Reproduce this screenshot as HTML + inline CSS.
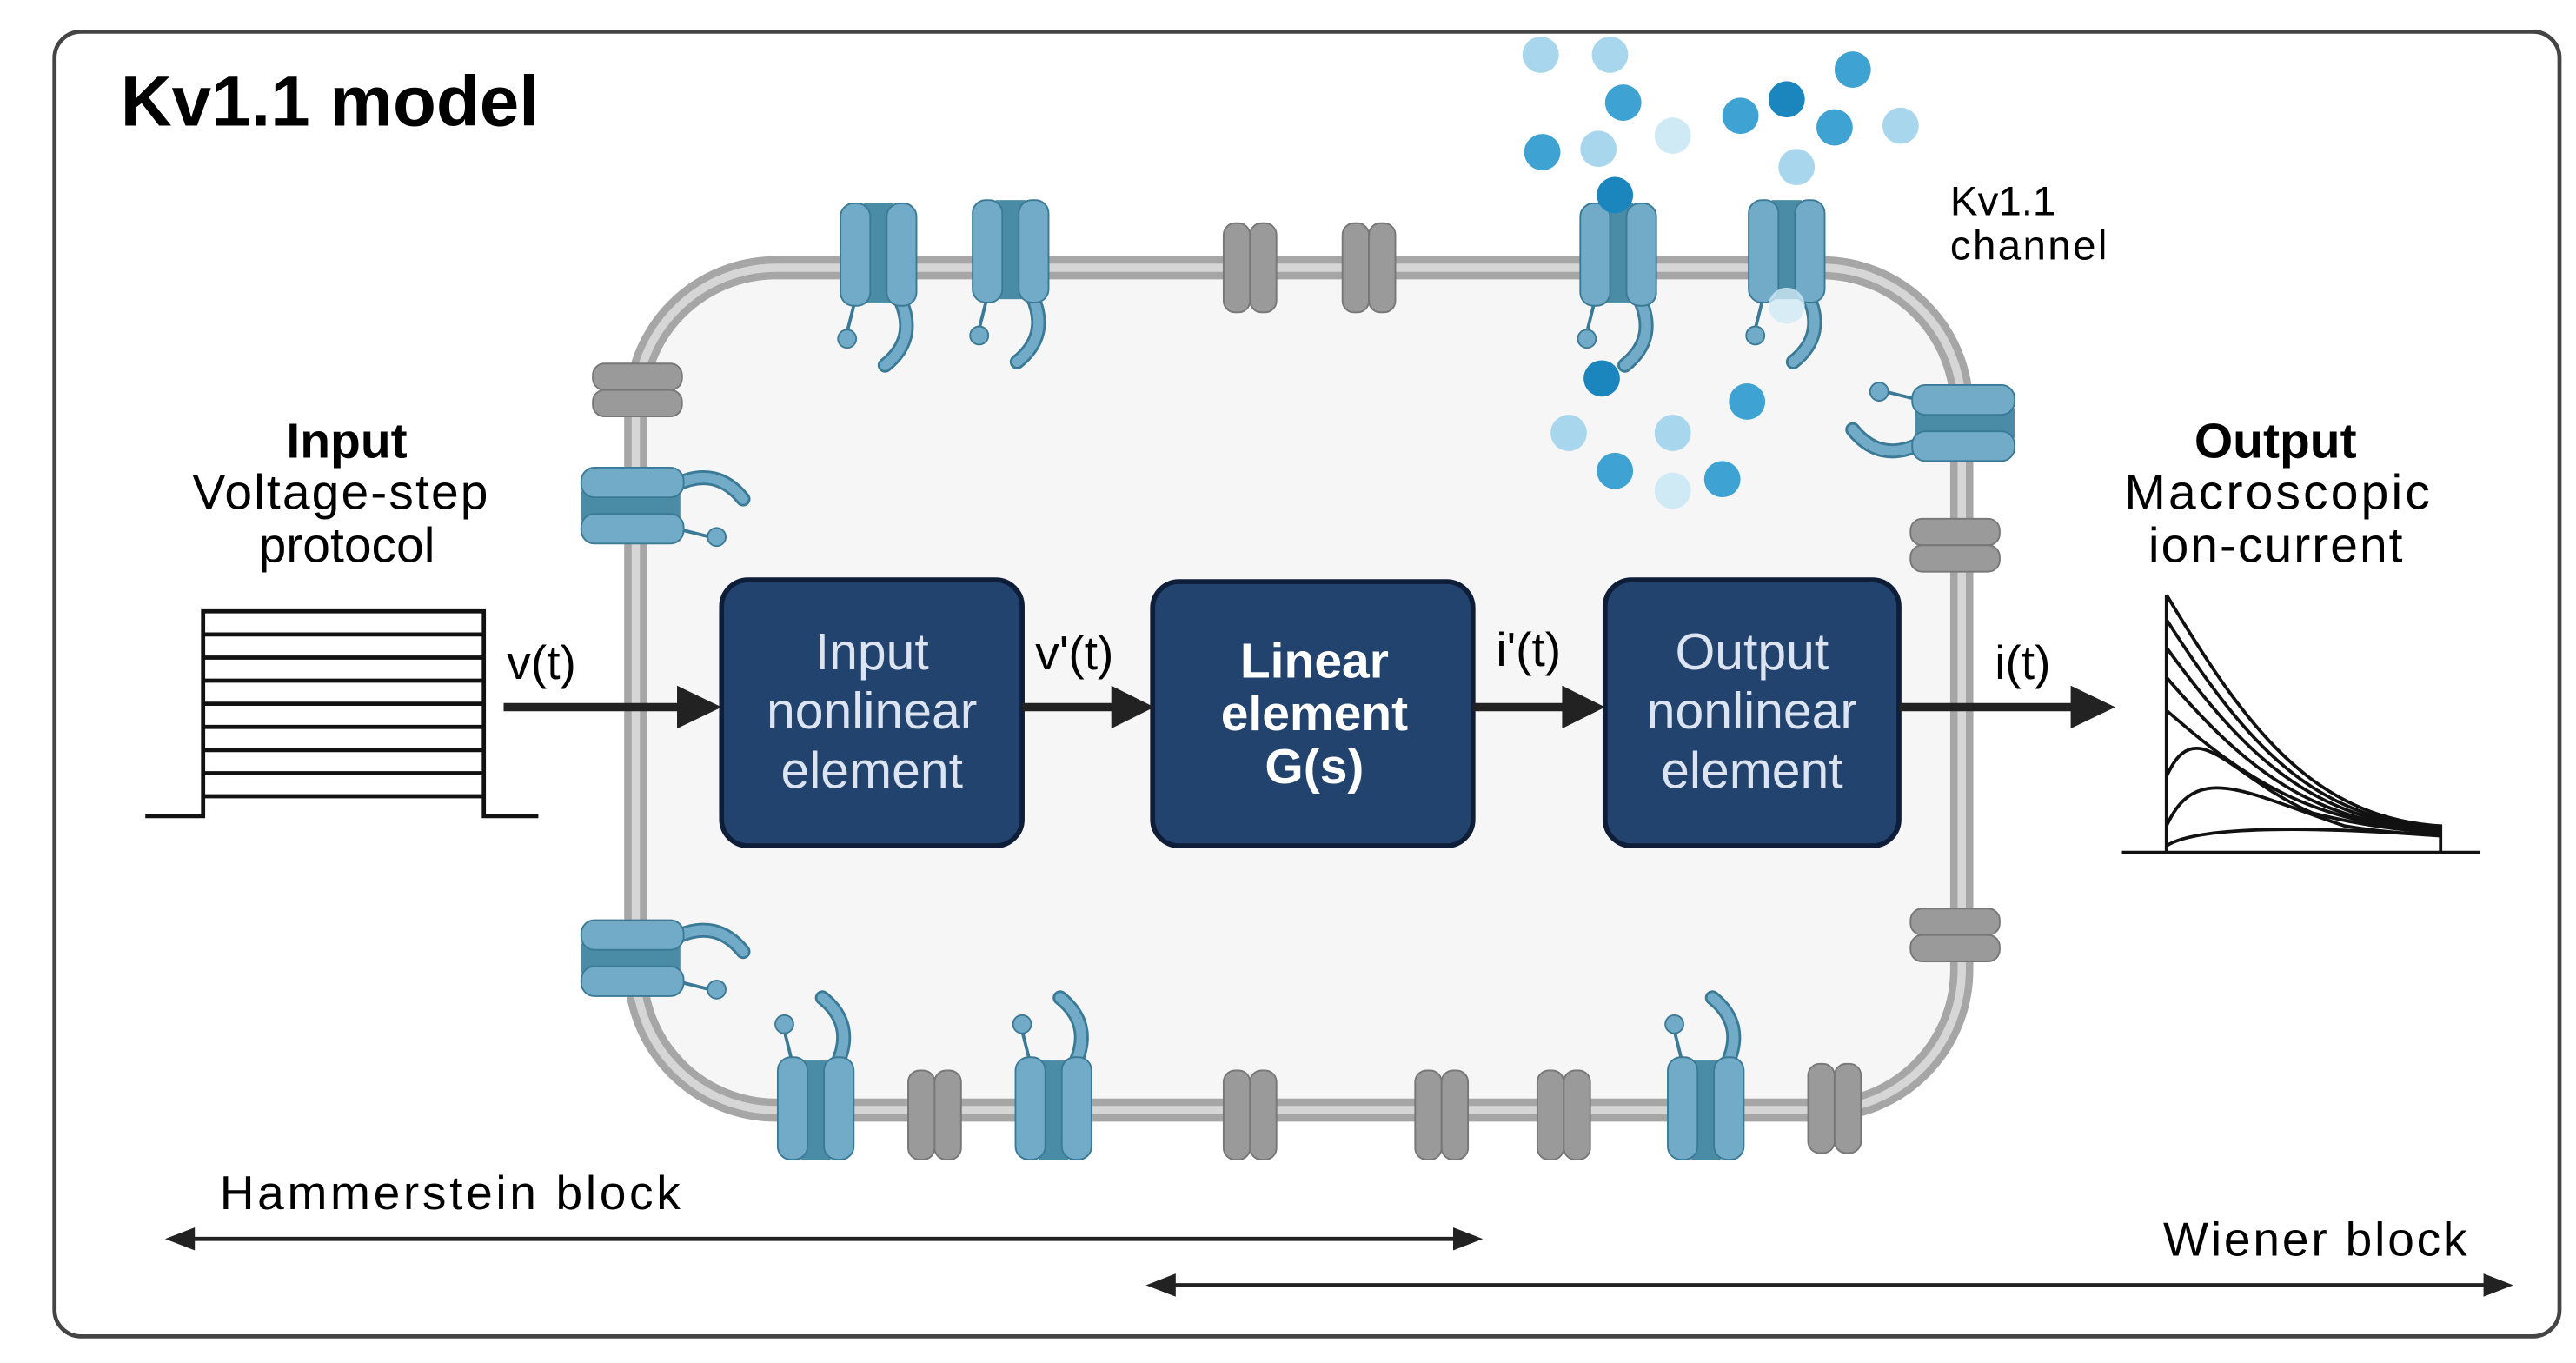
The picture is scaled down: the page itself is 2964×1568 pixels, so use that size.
<!DOCTYPE html>
<html><head><meta charset="utf-8"><style>
html,body{margin:0;padding:0;background:#fff;}
svg{display:block;}
text{font-family:"Liberation Sans",sans-serif;}
</style></head><body>
<svg width="2964" height="1568" viewBox="0 0 1560 825" xmlns="http://www.w3.org/2000/svg">
<defs>
<g id="ch">
 <path d="M13,24 Q24,48 4,64" fill="none" stroke="#3b7a96" stroke-width="9" stroke-linecap="round"/>
 <path d="M13,24 Q24,48 4,64" fill="none" stroke="#72abc8" stroke-width="6" stroke-linecap="round"/>
 <line x1="-14" y1="24" x2="-19" y2="44" stroke="#3b7a96" stroke-width="2"/>
 <circle cx="-19" cy="48" r="5.5" fill="#72abc8" stroke="#3b7a96" stroke-width="1"/>
 <rect x="-9" y="-34" width="18" height="60" fill="#4a8ca6"/>
 <rect x="-23" y="-34" width="18" height="62" rx="8" fill="#72abc8" stroke="#3b7a96" stroke-width="1"/>
 <rect x="5" y="-34" width="18" height="62" rx="8" fill="#72abc8" stroke="#3b7a96" stroke-width="1"/>
</g>
<g id="gc">
 <rect x="-16" y="-27" width="16" height="54" rx="7" fill="#9a9a9a" stroke="#777" stroke-width="1"/>
 <rect x="0" y="-27" width="16" height="54" rx="7" fill="#9a9a9a" stroke="#777" stroke-width="1"/>
</g>
</defs>
<rect x="0" y="0" width="1560" height="825" fill="#fff"/>
<rect x="33" y="19" width="1517" height="790" rx="16" fill="#fff" stroke="#444" stroke-width="2.5"/>
<text x="73" y="76" font-size="43" font-weight="bold" fill="#000">Kv1.1 model</text>

<!-- cell -->
<rect x="385" y="162" width="803" height="510" rx="85" fill="#f6f6f6" stroke="#a6a6a6" stroke-width="14"/>
<rect x="385" y="162" width="803" height="510" rx="85" fill="none" stroke="#d6d6d6" stroke-width="5"/>

<!-- gray channels -->
<use href="#gc" transform="translate(757,162)"/>
<use href="#gc" transform="translate(829,162)"/>
<use href="#gc" transform="translate(566,675)"/>
<use href="#gc" transform="translate(757,675)"/>
<use href="#gc" transform="translate(873,675)"/>
<use href="#gc" transform="translate(947,675)"/>
<use href="#gc" transform="translate(1111,671)"/>
<use href="#gc" transform="translate(386,236) rotate(90)"/>
<use href="#gc" transform="translate(1184,330) rotate(90)"/>
<use href="#gc" transform="translate(1184,566) rotate(90)"/>

<!-- blue channels -->
<use href="#ch" transform="translate(532,157)"/>
<use href="#ch" transform="translate(612,155)"/>
<use href="#ch" transform="translate(980,157)"/>
<use href="#ch" transform="translate(1082,155)"/>
<use href="#ch" transform="translate(494,668) scale(1,-1)"/>
<use href="#ch" transform="translate(638,668) scale(1,-1)"/>
<use href="#ch" transform="translate(1033,668) scale(1,-1)"/>
<use href="#ch" transform="translate(386,306) rotate(-90)"/>
<use href="#ch" transform="translate(386,580) rotate(-90)"/>
<use href="#ch" transform="translate(1186,256) rotate(90)"/>

<!-- ions -->
<g stroke="none">
<circle cx="933" cy="33" r="11" fill="#a8d6ec"/>
<circle cx="975" cy="33" r="11" fill="#a8d6ec"/>
<circle cx="983" cy="62" r="11" fill="#3ea2d2"/>
<circle cx="934" cy="92" r="11" fill="#3ea2d2"/>
<circle cx="968" cy="90" r="11" fill="#a8d6ec"/>
<circle cx="1013" cy="82" r="11" fill="#d0eaf5"/>
<circle cx="1054" cy="70" r="11" fill="#3ea2d2"/>
<circle cx="1082" cy="60" r="11" fill="#1a86bd"/>
<circle cx="1122" cy="42" r="11" fill="#3ea2d2"/>
<circle cx="1111" cy="77" r="11" fill="#3ea2d2"/>
<circle cx="1151" cy="76" r="11" fill="#a8d6ec"/>
<circle cx="1088" cy="101" r="11" fill="#a8d6ec"/>
<circle cx="978" cy="118" r="11" fill="#1a86bd"/>
<circle cx="1082" cy="185" r="11" fill="#d0eaf5" opacity="0.8"/>
<circle cx="970" cy="229" r="11" fill="#1a86bd"/>
<circle cx="1058" cy="243" r="11" fill="#3ea2d2"/>
<circle cx="950" cy="262" r="11" fill="#a8d6ec"/>
<circle cx="1013" cy="262" r="11" fill="#a8d6ec"/>
<circle cx="978" cy="285" r="11" fill="#3ea2d2"/>
<circle cx="1013" cy="297" r="11" fill="#d0eaf5"/>
<circle cx="1043" cy="290" r="11" fill="#3ea2d2"/>
</g>
<text x="1181" y="130" font-size="25" fill="#000">Kv1.1</text>
<text x="1181" y="157" font-size="25" fill="#000" textLength="95">channel</text>

<!-- boxes -->
<g stroke="#0e1d38" stroke-width="3" fill="#23436f">
<rect x="437" y="351" width="182" height="161" rx="16"/>
<rect x="698" y="352" width="194" height="160" rx="16"/>
<rect x="972" y="351" width="178" height="161" rx="16"/>
</g>
<g font-size="31" fill="#dbe4f0" text-anchor="middle">
<text x="528" y="405">Input</text><text x="528" y="441">nonlinear</text><text x="528" y="477">element</text>
<text x="1061" y="405">Output</text><text x="1061" y="441">nonlinear</text><text x="1061" y="477">element</text>
</g>
<g font-size="30" fill="#fff" font-weight="bold" text-anchor="middle">
<text x="796" y="410">Linear</text><text x="796" y="442">element</text><text x="796" y="474">G(s)</text>
</g>

<!-- signal arrows -->
<g stroke="#222" stroke-width="5">
<line x1="305" y1="428" x2="412" y2="428"/>
<line x1="619" y1="428" x2="676" y2="428"/>
<line x1="892" y1="428" x2="950" y2="428"/>
<line x1="1150" y1="428" x2="1258" y2="428"/>
</g>
<g fill="#222">
<polygon points="410,415 437,428 410,441"/>
<polygon points="673,415 699,428 673,441"/>
<polygon points="946,415 972,428 946,441"/>
<polygon points="1254,415 1281,428 1254,441"/>
</g>
<g font-size="29" fill="#000">
<text x="307" y="411">v(t)</text>
<text x="627" y="405">v'(t)</text>
<text x="906" y="403">i'(t)</text>
<text x="1208" y="411">i(t)</text>
</g>

<!-- input / output labels -->
<g text-anchor="middle" font-size="30" fill="#000">
<text x="210" y="277" font-weight="bold">Input</text>
<text x="206" y="308" textLength="179">Voltage-step</text>
<text x="210" y="340">protocol</text>
<text x="1378" y="277" font-weight="bold">Output</text>
<text x="1379" y="308" textLength="185">Macroscopic</text>
<text x="1378" y="340" textLength="154">ion-current</text>
</g>
<g stroke="#111" stroke-width="2.5" fill="none">
<polyline points="88,494 123,494 123,370 293,370 293,494 326,494"/>
<line x1="123" y1="384" x2="293" y2="384"/>
<line x1="123" y1="398" x2="293" y2="398"/>
<line x1="123" y1="412" x2="293" y2="412"/>
<line x1="123" y1="426" x2="293" y2="426"/>
<line x1="123" y1="440" x2="293" y2="440"/>
<line x1="123" y1="454" x2="293" y2="454"/>
<line x1="123" y1="468" x2="293" y2="468"/>
<line x1="123" y1="482" x2="293" y2="482"/>
</g>
<!-- output traces -->
<g stroke="#111" stroke-width="2" fill="none">
<line x1="1285" y1="516" x2="1502" y2="516"/>
<line x1="1312" y1="360" x2="1312" y2="516"/>
<path d="M1312,360 C1360,440 1400,495 1478,500"/>
<path d="M1312,375 C1360,450 1400,496 1478,501"/>
<path d="M1312,392 C1360,458 1400,497 1478,502"/>
<path d="M1312,410 C1360,466 1400,498 1478,503"/>
<path d="M1312,430 C1360,472 1400,499 1478,503"/>
<path d="M1312,470 C1330,430 1350,470 1400,492 C1430,500 1460,503 1478,504"/>
<path d="M1312,500 C1330,460 1360,480 1420,500 C1450,505 1470,505 1478,505"/>
<path d="M1312,512 C1330,500 1400,500 1478,506"/>
<line x1="1478" y1="499" x2="1478" y2="516"/>
</g>

<!-- block arrows -->
<text x="133" y="732" font-size="29" fill="#000" textLength="279">Hammerstein block</text>
<text x="1310" y="760" font-size="29" fill="#000" textLength="184">Wiener block</text>
<g stroke="#222" stroke-width="2.5">
<line x1="110" y1="750" x2="888" y2="750"/>
<line x1="704" y1="778" x2="1512" y2="778"/>
</g>
<g fill="#222">
<polygon points="100,750 118,743 118,757"/>
<polygon points="898,750 880,743 880,757"/>
<polygon points="694,778 712,771 712,785"/>
<polygon points="1522,778 1504,771 1504,785"/>
</g>
</svg>
</body></html>
